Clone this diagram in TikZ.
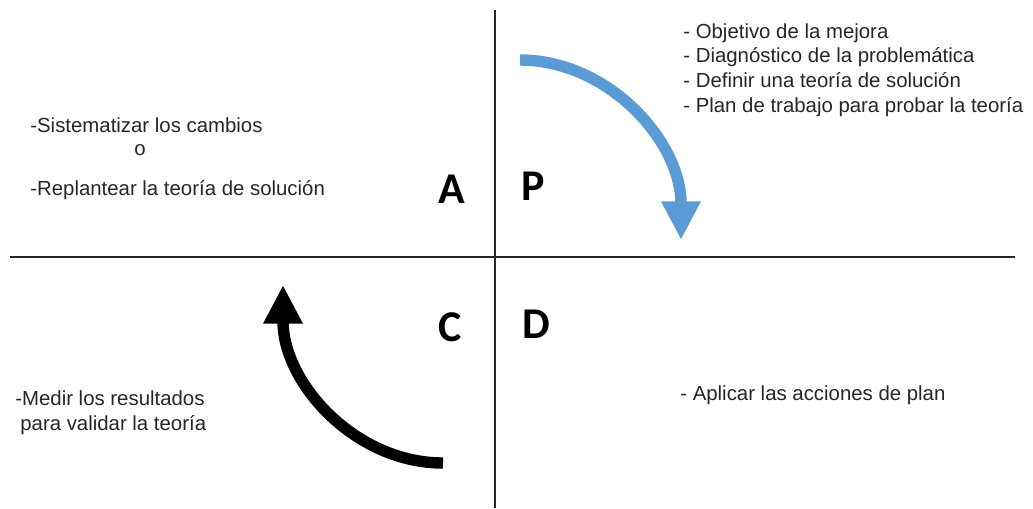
\documentclass[tikz,border=0pt]{standalone}
\usepackage{fontspec}
\setmainfont{Liberation Sans}
\newfontfamily\letrafont{Carlito}
\usepackage{tikz}
\usetikzlibrary{arrows.meta, positioning}
\definecolor{azulP}{HTML}{5B9BD5}
\definecolor{textoG}{HTML}{262626}

\begin{document}
\begin{tikzpicture}[x=0.02cm, y=-0.02cm,
	texto/.style={anchor=base west, inner sep=0pt, text=textoG, font=\fontsize{11.6}{14}\selectfont},
	letra/.style={anchor=base, inner sep=0pt, font=\letrafont\bfseries\fontsize{25}{30}\selectfont},
	eje/.style={line width=1.6pt, black!85},
	flecha/.style={line width=6.5pt, -{Triangle[length=22pt, width=21pt]}}]
	\useasboundingbox (0,0) rectangle (1033,508);
	% Ejes que separan los cuadrantes
	\coordinate (arriba) at (495,10);
	\coordinate (abajo) at (495,508);
	\coordinate (izq) at (10,257);
	\coordinate (der) at (1015,257);
	\draw[eje] (arriba) -- (abajo);
	\draw[eje] (izq) -- (der);
	% Letras del ciclo
	\node[letra] (A) at (452,203) {A};
	\node[letra] (P) at (533,200) {P};
	\node[letra] (C) at (450,341) {C};
	\node[letra] (D) at (536,338) {D};
	% Flechas curvas
	\coordinate (azul0) at (520,60);
	\coordinate (azul1) at (681,240);
	\draw[flecha, azulP] (azul0) .. controls +(88,0) and +(0,-99) .. (azul1);
	\coordinate (negra0) at (443,463);
	\coordinate (negra1) at (283,285);
	\draw[flecha, black] (negra0) .. controls +(-88,0) and +(0,98) .. (negra1);
	% Planificar
	\foreach \txt [count=\i] in {- Objetivo de la mejora, - Diagnóstico de la problemática, - Definir una teoría de solución, - Plan de trabajo para probar la teoría}
		\node[texto] (plan\i) at (683,13.3+24.7*\i) {\txt};
	% Hacer
	\node[texto] (hacer) at (680,400) {- Aplicar las acciones de plan};
	% Actuar
	\node[texto] (actuar1) at (30,132) {-Sistematizar los cambios};
	\node[texto, anchor=base] (actuarO) at (140,155) {o};
	\node[texto] (actuar2) at (30,195) {-Replantear la teoría de solución};
	% Verificar
	\node[texto] (verif1) at (15,405) {-Medir los resultados};
	\node[texto] (verif2) at (20,430) {para validar la teoría};
\end{tikzpicture}
\end{document}
